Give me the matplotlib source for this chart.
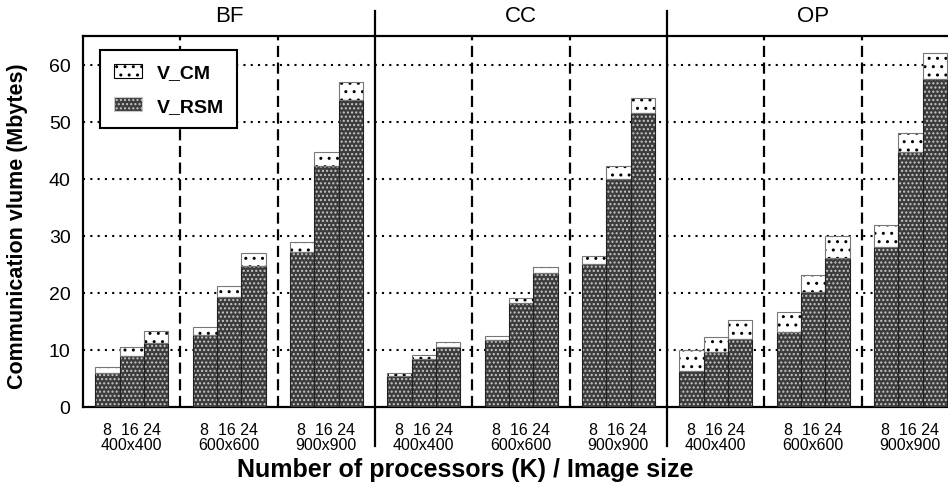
import numpy as np
import matplotlib
matplotlib.use("Agg")
import matplotlib.pyplot as plt
import matplotlib.transforms as mtransforms
from matplotlib.patches import Patch

plt.rcParams["font.family"] = ["Liberation Sans", "DejaVu Sans"]
plt.rcParams["hatch.linewidth"] = 1.0

# data (Mbytes)
algorithms = ["BF", "CC", "OP"]
image_sizes = ["400x400", "600x600", "900x900"]
procs = [8, 16, 24]

# total (V_CM + V_RSM stacked top) and V_RSM, per algorithm -> image size -> K
bf_total = [[7.1, 10.5, 13.4], [14.0, 21.2, 27.0], [28.9, 44.8, 57.0]]
bf_rsm = [[5.9, 9.0, 11.3], [12.6, 19.3, 24.7], [27.1, 42.3, 53.9]]
cc_total = [[5.9, 9.1, 11.4], [12.4, 19.2, 24.6], [26.5, 42.2, 54.2]]
cc_rsm = [[5.5, 8.4, 10.6], [11.7, 18.3, 23.5], [25.1, 40.0, 51.6]]
op_total = [[10.0, 12.2, 15.2], [16.7, 23.1, 29.9], [31.9, 48.0, 62.0]]
op_rsm = [[6.4, 9.6, 11.9], [13.2, 20.2, 26.2], [28.1, 44.7, 57.5]]

totals = [bf_total, cc_total, op_total]
rsms = [bf_rsm, cc_rsm, op_rsm]

W, H = 948, 485
fig = plt.figure(figsize=(W / 100, H / 100), dpi=100)
ax_l, ax_r, ax_t, ax_b = 83, 959, 37.3, 408
ax = fig.add_axes([ax_l / W, 1 - ax_b / H, (ax_r - ax_l) / W, (ax_b - ax_t) / H])

bw = 0.25
rsm_face = "#3c3c3c"
rsm_hatch = "#c8c8c8"

g = 0
for a in range(3):
    for s in range(3):
        for k in range(3):
            x = g + 0.5 + (k - 1) * bw
            rsm = rsms[a][s][k]
            cm = totals[a][s][k] - rsm
            # V_RSM part
            ax.bar(x, rsm, bw, color=rsm_face, edgecolor=rsm_hatch, hatch="....",
                   linewidth=0, zorder=3)
            # V_CM part
            ax.bar(x, cm, bw, bottom=rsm, color="white", edgecolor="black",
                   hatch="..", linewidth=0, zorder=3)
            # outlines
            ax.bar(x, rsm, bw, fill=False, edgecolor="#222222", linewidth=0.8, zorder=4)
            ax.bar(x, cm, bw, bottom=rsm, fill=False, edgecolor="#777777",
                   linewidth=0.8, zorder=4)
        g += 1

ax.set_xlim(0, 9)
ax.set_ylim(0, 65)

# grid
for yv in range(10, 61, 10):
    ax.axhline(yv, color="black", lw=1.5, ls=(0, (1, 2.5)), zorder=1)
for xv in [1, 2, 4, 5, 7, 8]:
    ax.axvline(xv, color="black", lw=1.6, ls=(0, (5, 2.5)), zorder=2)
for xv in [3, 6]:
    ax.plot([xv, xv], [-6.8, 69.4], color="black", lw=1.6, clip_on=False, zorder=5)

for sp in ax.spines.values():
    sp.set_linewidth(1.6)

ax.set_yticks(range(0, 61, 10))
ax.tick_params(axis="y", length=0, pad=9, labelsize=14)
ax.set_xticks([i + 0.5 for i in range(9)])
ax.set_xticklabels(["8  16 24\n" + image_sizes[i % 3] for i in range(9)],
                   fontsize=11.5, linespacing=0.95)
ax.tick_params(axis="x", length=0, pad=11)

title_tr = mtransforms.blended_transform_factory(ax.transData, fig.transFigure)
for a, name in enumerate(algorithms):
    ax.text(1.5 + 3 * a, 1 - 16.5 / H, name, transform=title_tr,
            ha="center", va="center", fontsize=16)

fig.text(465 / W, 1 - 470 / H, "Number of processors (K) / Image size",
         ha="center", va="center", fontsize=18, fontweight="bold")
fig.text(18 / W, 1 - 226 / H, "Communication vlume (Mbytes)", rotation=90,
         ha="center", va="center", fontsize=15.5, fontweight="bold")

handles = [Patch(facecolor="white", edgecolor="black", hatch="..", linewidth=0.8),
           Patch(facecolor=rsm_face, edgecolor=rsm_hatch, hatch="....", linewidth=0.8)]
leg = ax.legend(handles, ["V_CM", "V_RSM"], loc="upper left",
                bbox_to_anchor=(17 / (ax_r - ax_l), 1 - 14 / (ax_b - ax_t)),
                borderaxespad=0, fancybox=False, framealpha=1, edgecolor="black",
                prop={"weight": "bold", "size": 14}, handlelength=1.45,
                handleheight=0.7, labelspacing=0.8, borderpad=0.7,
                handletextpad=0.75)
leg.get_frame().set_linewidth(1.5)
leg.set_zorder(10)

fig.savefig("out.png", dpi=100)
